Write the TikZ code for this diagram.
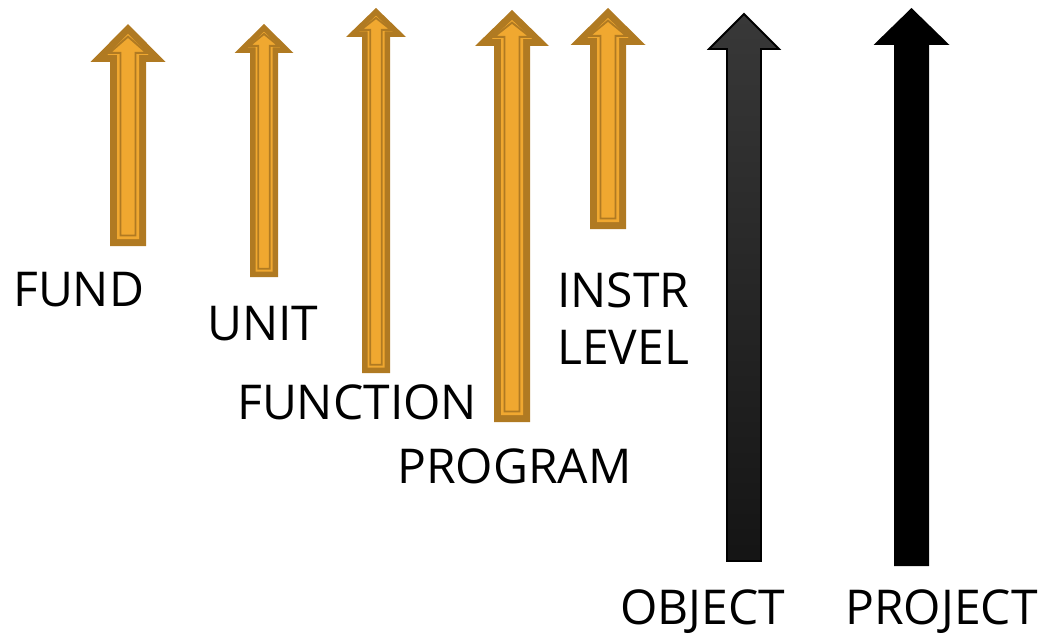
\documentclass[tikz,border=0pt]{standalone}
\usepackage{fontspec}
\setmainfont{Open Sans}
\definecolor{ambdark}{HTML}{B07A22}
\definecolor{amblite}{HTML}{F0A830}
% block arrow outline: centre x, tip y, wing y, bottom y, shaft half width, head half width
\newcommand{\blockarrow}[6]{(#1,#2) -- (#1+#6,#3) -- (#1+#5,#3) -- (#1+#5,#4)
  -- (#1-#5,#4) -- (#1-#5,#3) -- (#1-#6,#3) -- cycle}

\begin{document}
\begin{tikzpicture}[x=0.75pt, y=-0.75pt,
  lvl/.style={font=\fontsize{36}{42.75}\selectfont, inner sep=0pt, anchor=base west, align=left},
  miter/.style={line join=miter, miter limit=10}]
\useasboundingbox (0,0) rectangle (1043,635);
% ----- orange arrows: dark rim, light band, thin inner outline -----
\foreach \cx/\tip/\wing/\bot/\hw/\hh/\rim in {128/24/62/246/18/37.5/7,
    264/24/53/277/14/29.5/5.5, 376/8/37/373/14/30/5.5,
    512/10/46/422/18/37/7, 608/8/45/229/18/37.5/7}{
  \pgfmathsetmacro\ltip{\tip+1.41*\rim}
  \pgfmathsetmacro\lwing{\wing-\rim}
  \pgfmathsetmacro\lbot{\bot-\rim}
  \pgfmathsetmacro\lhw{\hw-\rim}
  \pgfmathsetmacro\lhh{\hh-2.41*\rim}
  \pgfmathsetmacro\itip{\ltip+0.4*\rim}
  \pgfmathsetmacro\iwing{\lwing-0.3*\rim}
  \pgfmathsetmacro\ibot{\bot-1.5*\rim}
  \pgfmathsetmacro\ihw{\hw-1.5*\rim}
  \pgfmathsetmacro\ihh{\lhh-0.3*\rim}
  \fill[ambdark] \blockarrow{\cx}{\tip}{\wing}{\bot}{\hw}{\hh};
  \fill[amblite] \blockarrow{\cx}{\ltip}{\lwing}{\lbot}{\lhw}{\lhh};
  \draw[miter, ambdark, line width=1.4pt]
    \blockarrow{\cx}{\itip}{\iwing}{\ibot}{\ihw}{\ihh};
}
% ----- black arrows -----
\shade[miter, draw=black, line width=1.4pt, top color=black!78, bottom color=black!92]
  \blockarrow{744}{14}{49}{561}{17}{35};
\fill[miter, black] \blockarrow{911.5}{8}{45}{566}{17.5}{38};
% ----- labels -----
\node[lvl] (fund) at (13,306) {FUND};
\node[lvl] (unit) at (207,340) {UNIT};
\node[lvl] (function) at (237,419) {FUNCTION};
\node[lvl] (program) at (397,483) {PROGRAM};
\node[lvl] (instr) at (557,364) {INSTR\\LEVEL};
\node[lvl] (object) at (620,624) {OBJECT};
\node[lvl] (project) at (845,624) {PROJECT};
\end{tikzpicture}
\end{document}
